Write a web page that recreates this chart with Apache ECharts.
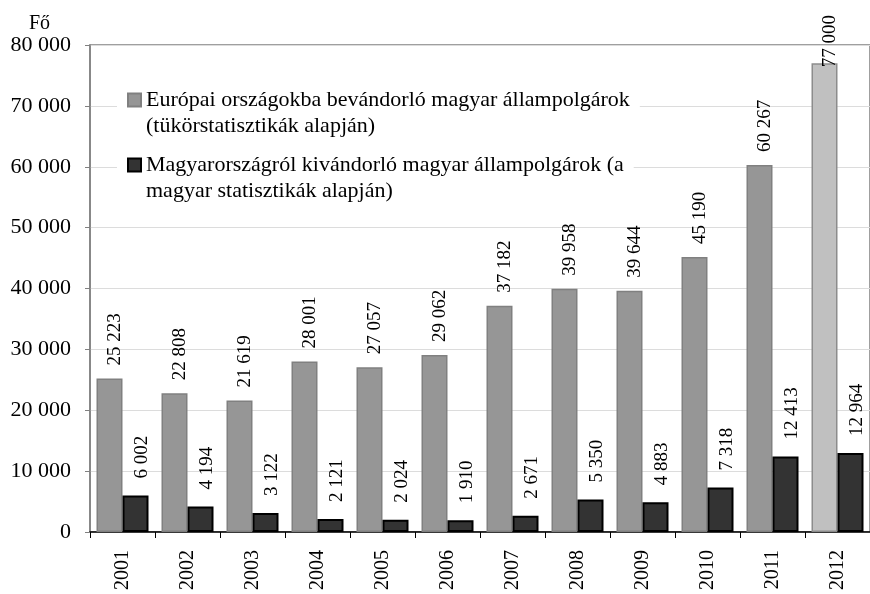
<!DOCTYPE html>
<html>
<head>
<meta charset="utf-8">
<script src="https://cdn.jsdelivr.net/npm/echarts@6/dist/echarts.min.js"></script>
<style>
  html, body { margin: 0; padding: 0; background: #fff; }
  #chart { width: 870px; height: 594px; }
</style>
</head>
<body>
<div id="chart"></div>
<script>
const years = ['2001', '2002', '2003', '2004', '2005', '2006', '2007', '2008', '2009', '2010', '2011', '2012'];
const europeValues = [25223, 22808, 21619, 28001, 27057, 29062, 37182, 39958, 39644, 45190, 60267, 77000];
const hungaryValues = [6002, 4194, 3122, 2121, 2024, 1910, 2671, 5350, 4883, 7318, 12413, 12964];
const europeName = 'Európai országokba bevándorló magyar állampolgárok\n(tükörstatisztikák alapján)';
const hungaryName = 'Magyarországról kivándorló magyar állampolgárok (a\nmagyar statisztikák alapján)';

const serif = "'Liberation Serif', 'Times New Roman', serif";
const fmt = v => String(v).replace(/\B(?=(\d{3})+(?!\d))/g, ' ');

const chart = echarts.init(document.getElementById('chart'));

// last grey bar is lighter and its label sits on the bar top
const europeData = europeValues.map((v, i) => i === europeValues.length - 1
  ? { value: v, itemStyle: { color: '#c0c0c0', borderColor: '#8c8c8c' }, label: { distance: -4 } }
  : v);

// blank first line so the icon lines up with the first text line
const legendBase = {
  orient: 'vertical',
  left: 117,
  padding: [0, 10, 0, 10],
  backgroundColor: '#fff',
  icon: 'rect',
  itemWidth: 13,
  itemHeight: 13,
  formatter: name => ' \n' + name,
  textStyle: { fontFamily: serif, fontSize: 22, color: '#000', lineHeight: 26 }
};

const option = {
  animation: false,
  textStyle: { fontFamily: serif },
  grid: { left: 90, top: 45, width: 785, height: 487, show: true, borderColor: '#808080', borderWidth: 1.5 },
  legend: [
    Object.assign({ data: [europeName], top: 61 }, legendBase),
    Object.assign({ data: [hungaryName], top: 126 }, legendBase)
  ],
  xAxis: {
    type: 'category',
    data: years,
    axisLine: { lineStyle: { color: '#000', width: 1.5 } },
    axisTick: { show: true, length: 6, lineStyle: { color: '#000' } },
    axisLabel: { rotate: 90, margin: 18, fontSize: 20, color: '#000', fontFamily: serif }
  },
  yAxis: {
    type: 'value',
    min: 0,
    max: 80000,
    interval: 10000,
    name: 'Fő',
    nameLocation: 'end',
    nameGap: 8,
    nameTextStyle: { fontFamily: serif, fontSize: 20, color: '#000', align: 'right', padding: [0, 40, 0, 0] },
    axisLine: { show: true, lineStyle: { color: '#808080', width: 1.5 } },
    axisTick: { show: true, length: 5, lineStyle: { color: '#808080' } },
    axisLabel: { fontSize: 22, color: '#000', margin: 19, fontFamily: serif, formatter: fmt },
    splitLine: { lineStyle: { color: '#dcdcdc' } }
  },
  series: [
    {
      name: europeName,
      type: 'bar',
      data: europeData,
      barGap: '0%',
      barCategoryGap: '20%',
      itemStyle: { color: '#969696', borderColor: '#808080', borderWidth: 1.5 },
      label: {
        show: true, position: 'top', rotate: 90, align: 'left', verticalAlign: 'middle',
        distance: 13, offset: [0, 6], fontSize: 19, color: '#000', fontFamily: serif,
        formatter: p => fmt(p.value)
      }
    },
    {
      name: hungaryName,
      type: 'bar',
      data: hungaryValues,
      itemStyle: { color: '#333333', borderColor: '#000', borderWidth: 2 },
      label: {
        show: true, position: 'top', rotate: 90, align: 'left', verticalAlign: 'middle',
        distance: 17, offset: [0, 7], fontSize: 19, color: '#000', fontFamily: serif,
        formatter: p => fmt(p.value)
      }
    }
  ]
};

chart.setOption(option);
</script>
</body>
</html>
